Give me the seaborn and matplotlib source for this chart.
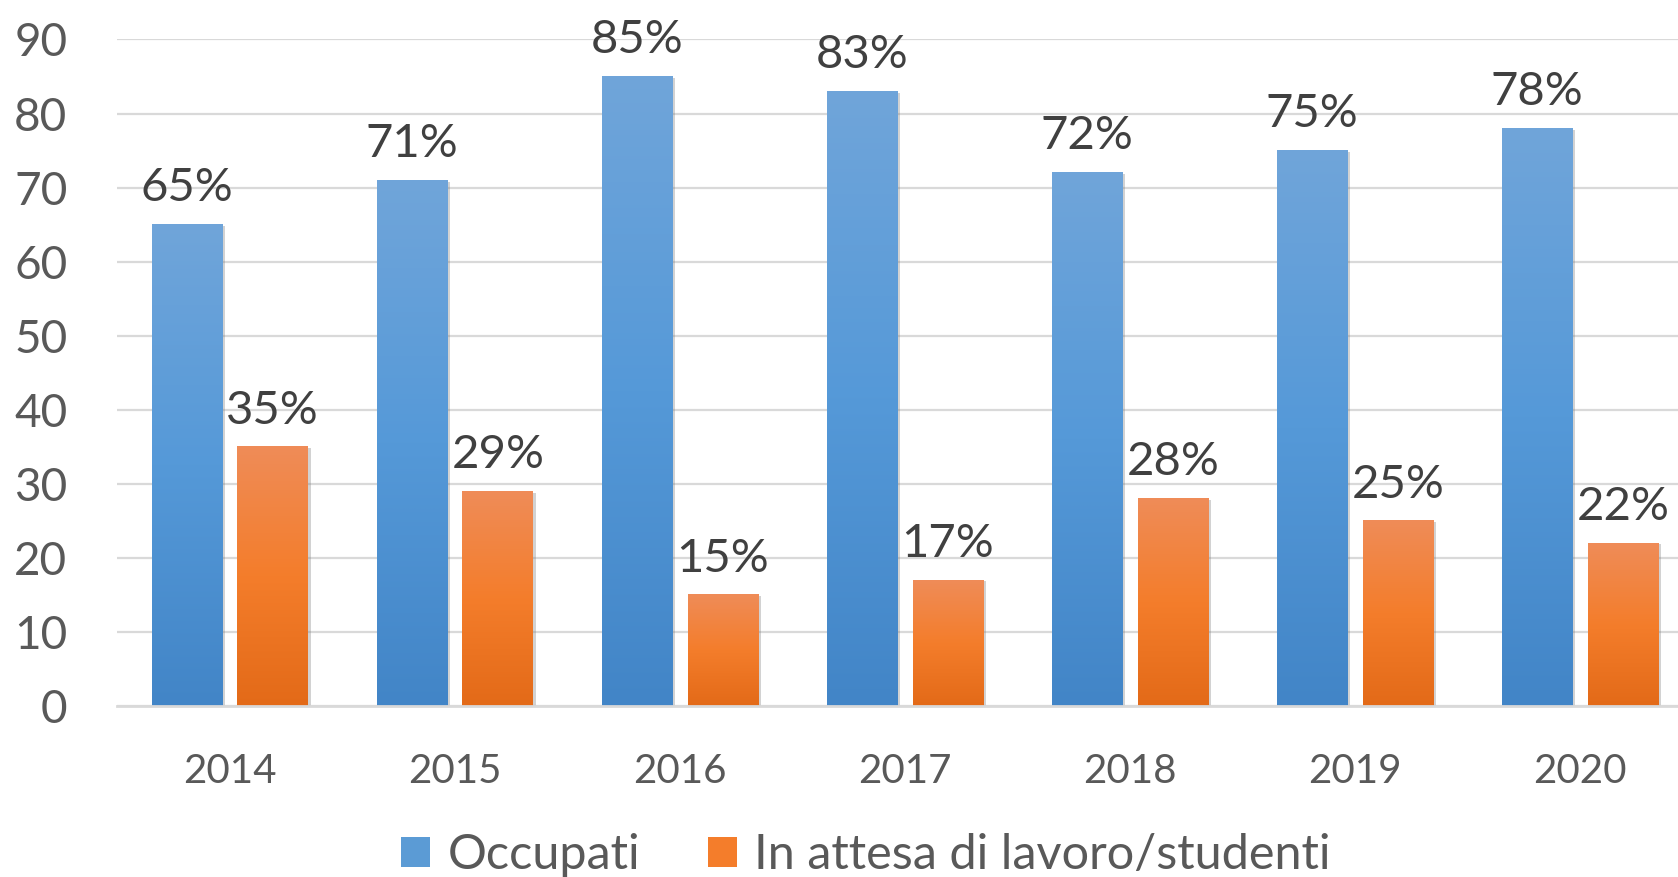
import numpy as np
import pandas as pd
import matplotlib
matplotlib.use("Agg")
import matplotlib.pyplot as plt
from matplotlib.colors import LinearSegmentedColormap
from matplotlib.patches import Patch
import matplotlib.patheffects as pe
import seaborn as sns

# Data
years = ["2014", "2015", "2016", "2017", "2018", "2019", "2020"]
occupati = [65, 71, 85, 83, 72, 75, 78]
in_attesa = [35, 29, 15, 17, 28, 25, 22]
series_names = ["Occupati", "In attesa di lavoro/studenti"]
y_ticks = [0, 10, 20, 30, 40, 50, 60, 70, 80, 90]

df = pd.DataFrame({
    "Anno": years * 2,
    "Valore": occupati + in_attesa,
    "Gruppo": [series_names[0]] * len(years) + [series_names[1]] * len(years),
})

blue_mid = "#5B9BD5"
orange_mid = "#F47D2B"
blue_grad = LinearSegmentedColormap.from_list("bg", ["#4285C7", "#5599D8", "#70A5DA"])
orange_grad = LinearSegmentedColormap.from_list("og", ["#E36A18", "#F47D2B", "#EF8C58"])

sns.set_theme(style="white")
plt.rcParams["font.family"] = ["Lato", "DejaVu Sans"]

fig = plt.figure(figsize=(16.78, 8.77), dpi=100)
ax = fig.add_axes([0.070, 0.195, 0.93, 0.760])

sns.barplot(data=df, x="Anno", y="Valore", hue="Gruppo",
            palette=[blue_mid, orange_mid], width=0.76, gap=0.175,
            legend=False, ax=ax, zorder=3)

# Replace flat fills with vertical gradients plus a soft shadow
grad = np.linspace(0, 1, 256).reshape(-1, 1)
for container, cmap in zip(ax.containers, [blue_grad, orange_grad]):
    for bar in container:
        x, w, h = bar.get_x(), bar.get_width(), bar.get_height()
        bar.set_facecolor("white")
        bar.set_edgecolor("none")
        bar.set_path_effects([pe.SimplePatchShadow(offset=(2, -1), shadow_rgbFace="#808080", alpha=0.35), pe.Normal()])
        ax.imshow(grad, extent=[x, x + w, 0, h], origin="lower", aspect="auto",
                  cmap=cmap, zorder=4, interpolation="bicubic")

# Value labels
for container, vals in zip(ax.containers, [occupati, in_attesa]):
    ax.bar_label(container, labels=[f"{v}%" for v in vals], padding=11,
                 fontsize=34, color="#404040", zorder=6, clip_on=False)

ax.set_xlim(-0.5, 6.435)
ax.set_ylim(0, 90)
ax.set_yticks(y_ticks)
ax.set_xlabel("")
ax.set_ylabel("")
ax.grid(axis="y", color="#D9D9D9", linewidth=1.6, zorder=0)
ax.set_axisbelow(True)
for s in ["top", "right", "left"]:
    ax.spines[s].set_visible(False)
ax.spines["bottom"].set_color("#D9D9D9")
ax.spines["bottom"].set_linewidth(2)
ax.spines["bottom"].set_zorder(5)
ax.tick_params(axis="y", length=0, pad=36, labelsize=33, labelcolor="#595959")
ax.tick_params(axis="x", length=0, pad=34, labelsize=29, labelcolor="#595959")

handles = [Patch(facecolor=blue_mid, edgecolor="none"), Patch(facecolor=orange_mid, edgecolor="none")]
fig.legend(handles, series_names, loc="center", bbox_to_anchor=(0.516, 0.025), ncol=2,
           frameon=False, fontsize=35, labelcolor="#595959", handlelength=0.6,
           handleheight=0.6, handletextpad=0.35, columnspacing=1.4)

fig.savefig("out.png", dpi=100)
